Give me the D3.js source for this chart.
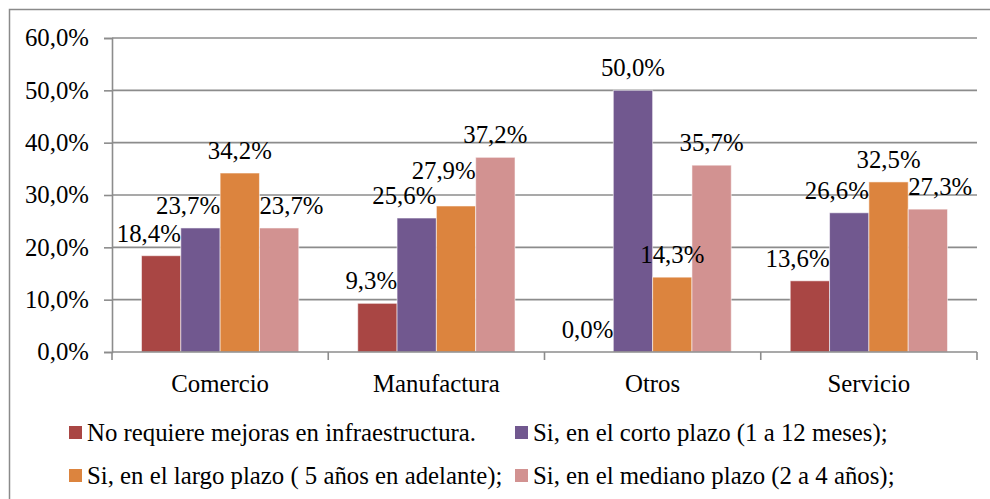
<!DOCTYPE html>
<html>
<head>
<meta charset="utf-8">
<script src="https://cdn.jsdelivr.net/npm/d3@7"></script>
<style>
  html, body { margin: 0; padding: 0; background: #fff; }
  svg { display: block; }
</style>
</head>
<body>
<svg id="chart" width="990" height="499"></svg>
<script>
// ---- data ----
const categories = ["Comercio", "Manufactura", "Otros", "Servicio"];
const seriesNames = [
  "No requiere mejoras en infraestructura.",
  "Si, en el corto plazo (1 a 12 meses);",
  "Si, en el largo plazo ( 5 años en adelante);",
  "Si, en el mediano plazo (2 a 4 años);"
];
const noRequiere = [18.4, 9.3, 0.0, 13.6];
const cortoPlazo = [23.7, 25.6, 50.0, 26.6];
const largoPlazo = [34.2, 27.9, 14.3, 32.5];
const medianoPlazo = [23.7, 37.2, 35.7, 27.3];
const yTicks = [0, 10, 20, 30, 40, 50, 60];
const colors = ["#A94644", "#71588F", "#DC843E", "#D29291"];

const seriesValues = [noRequiere, cortoPlazo, largoPlazo, medianoPlazo];
const fmt = v => v.toFixed(1).replace(".", ",") + "%";
const FONT = "Liberation Serif";

// ---- layout ----
const svg = d3.select("#chart");
const plot = { left: 112, right: 977, top: 38, bottom: 352 };
const FS = 24.8;

// outer border
svg.append("rect")
  .attr("x", 9.5).attr("y", 9.5).attr("width", 1000).attr("height", 520)
  .attr("fill", "none").attr("stroke", "#8a8a8a").attr("stroke-width", 1.5);

const x0 = d3.scaleBand().domain(categories).range([plot.left, plot.right]).paddingInner(0).paddingOuter(0);
const x1 = d3.scaleBand().domain(d3.range(seriesNames.length)).range([0, x0.bandwidth()]).paddingOuter(0.75).paddingInner(0);
const y = d3.scaleLinear().domain([0, 60]).range([plot.bottom, plot.top]);

// gridlines
svg.append("g").selectAll("line").data(yTicks.filter(t => t > 0)).join("line")
  .attr("x1", plot.left).attr("x2", plot.right)
  .attr("y1", d => y(d)).attr("y2", d => y(d))
  .attr("stroke", "#8c8c8c").attr("stroke-width", 1.6);

// y axis
const yAxis = d3.axisLeft(y).tickValues(yTicks).tickFormat(fmt).tickSize(8).tickPadding(15);
const gy = svg.append("g").attr("transform", `translate(${plot.left},0)`).call(yAxis)
  .attr("font-family", FONT).attr("font-size", FS);
gy.select(".domain").attr("stroke", "#8c8c8c").attr("stroke-width", 1.6);
gy.selectAll(".tick line").attr("stroke", "#8c8c8c").attr("stroke-width", 1.6);
gy.selectAll(".tick text").attr("font-size", FS).attr("fill", "#000").attr("font-family", FONT);

// bars
const groups = svg.append("g").selectAll("g").data(categories).join("g")
  .attr("transform", d => `translate(${x0(d)},0)`);

groups.selectAll("rect").data((c, ci) => seriesValues.map((vals, si) => ({ si, v: vals[ci] })))
  .join("rect")
  .attr("x", d => x1(d.si))
  .attr("width", x1.bandwidth())
  .attr("y", d => y(d.v))
  .attr("height", d => y(0) - y(d.v))
  .attr("fill", d => colors[d.si])
  .attr("stroke", "rgba(255,255,255,0.55)").attr("stroke-width", 1);

// x axis (drawn after bars)
const gx = svg.append("g").attr("transform", `translate(0,${plot.bottom})`);
gx.append("line").attr("x1", plot.left).attr("x2", plot.right)
  .attr("stroke", "#8c8c8c").attr("stroke-width", 1.6);
const bounds = categories.map(c => x0(c)).concat([plot.right]);
gx.selectAll("line.tk").data(bounds).join("line").attr("class", "tk")
  .attr("x1", d => d).attr("x2", d => d).attr("y1", 0).attr("y2", 8)
  .attr("stroke", "#8c8c8c").attr("stroke-width", 1.6);
gx.selectAll("text").data(categories).join("text")
  .attr("x", d => x0(d) + x0.bandwidth() / 2)
  .attr("y", 31).attr("dy", "0.35em")
  .attr("text-anchor", "middle").attr("font-size", FS).attr("font-family", FONT).attr("fill", "#000")
  .text(d => d);

// data labels with simple neighbour avoidance
const measure = svg.append("text").attr("font-size", FS).attr("font-family", FONT).attr("visibility", "hidden");
const textW = s => { measure.text(s); return measure.node().getComputedTextLength(); };
const labels = [];
categories.forEach((c, ci) => {
  const g = [];
  seriesValues.forEach((vals, si) => {
    const v = vals[ci];
    const bx = x0(c) + x1(si), bw = x1.bandwidth();
    const top = y(v);
    const w = textW(fmt(v));
    let cx = bx + bw / 2;
    let base = top - 14;
    const bottom = base + 4;
    let needL = 0, needR = 0;
    if (si > 0) {
      const nTop = y(seriesValues[si - 1][ci]);
      if (nTop < bottom && cx - w / 2 < bx) needR = bx - (cx - w / 2);
    }
    if (si < seriesValues.length - 1) {
      const nTop = y(seriesValues[si + 1][ci]);
      if (nTop < bottom && cx + w / 2 > bx + bw) needL = (cx + w / 2) - (bx + bw);
    }
    if (needL > 0 && needR === 0) cx -= needL;
    else if (needR > 0 && needL === 0) cx += needR;
    g.forEach(p => {
      const hOver = Math.abs(p.cx - cx) < (p.w + w) / 2;
      if (hOver && Math.abs(p.base - base) < FS) base = p.base - FS;
    });
    const lab = { cx, base, w, text: fmt(v) };
    g.push(lab); labels.push(lab);
  });
});
measure.remove();

svg.append("g").selectAll("text").data(labels).join("text")
  .attr("x", d => d.cx).attr("y", d => d.base)
  .attr("text-anchor", "middle").attr("font-size", FS).attr("font-family", FONT).attr("fill", "#000")
  .text(d => d.text);

// legend
const legendCols = [69, 515];
const legendRows = [432.5, 475.5];
const lg = svg.append("g");
seriesNames.forEach((name, i) => {
  const lx = legendCols[i % 2], ly = legendRows[Math.floor(i / 2)];
  lg.append("rect").attr("x", lx).attr("y", ly - 6.5).attr("width", 13).attr("height", 13)
    .attr("fill", colors[i]);
  lg.append("text").attr("x", lx + 18).attr("y", ly).attr("dy", "0.35em")
    .attr("font-size", FS).attr("font-family", FONT).attr("fill", "#000").text(name);
});
</script>
</body>
</html>
